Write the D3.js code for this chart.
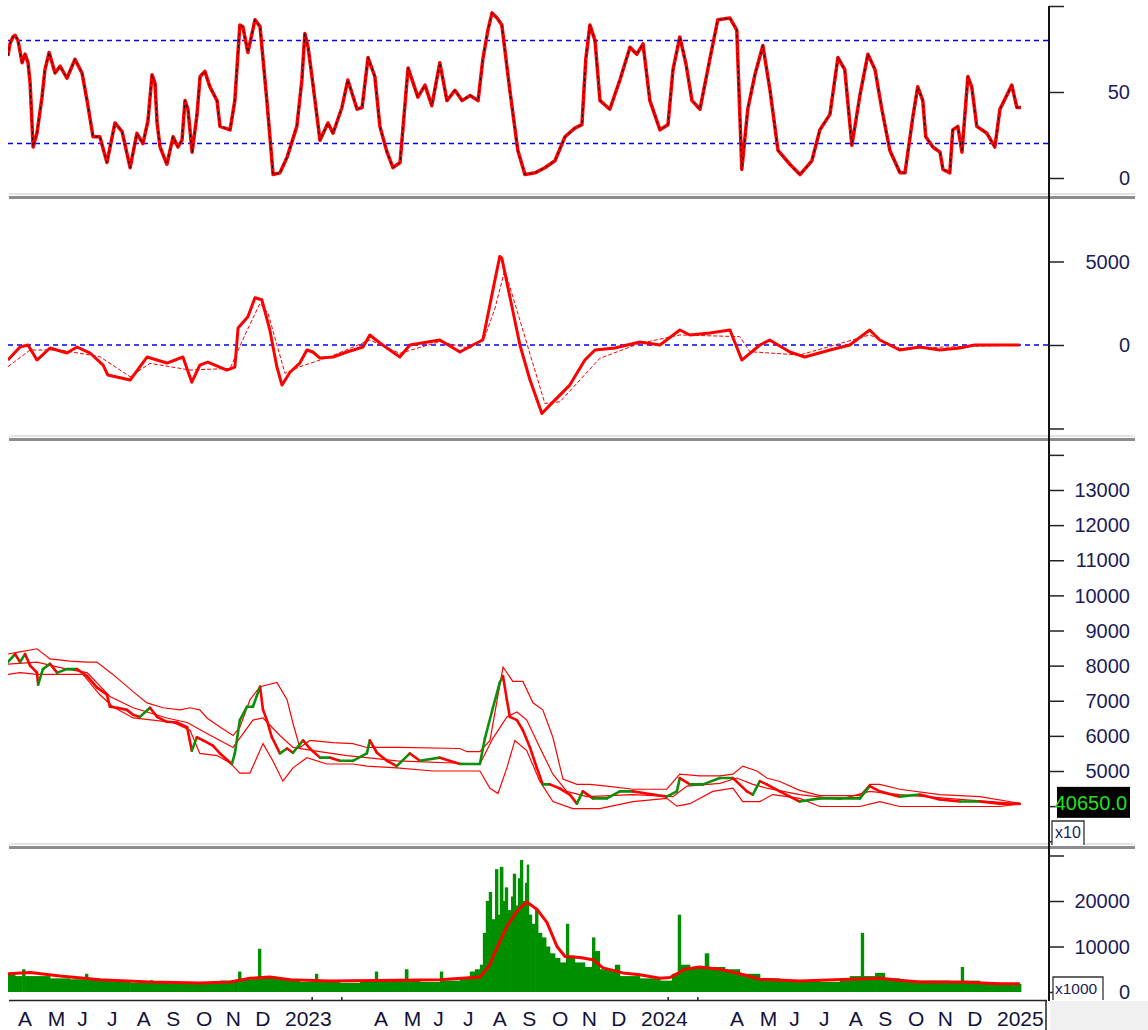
<!DOCTYPE html>
<html>
<head>
<meta charset="utf-8">
<script src="https://cdn.jsdelivr.net/npm/d3@7"></script>
<style>
  body { margin: 0; background: #fff; }
  svg { display: block; font-family: "Liberation Sans", Arial, sans-serif; }
</style>
</head>
<body>
<script>
// x positions are months since 1 April 2022
const monthLabels = ["A","M","J","J","A","S","O","N","D","2023","","","A","M","J","J","A","S","O","N","D","2024","","","A","M","J","J","A","S","O","N","D","2025"];

const rsi = [[-0.24,71],[-0.17,78],[-0.07,82],[0,83],[0.10,80],[0.24,67],[0.34,72],[0.44,67],[0.51,55],[0.61,18],[0.74,26],[0.91,47],[1.01,63],[1.15,73],[1.35,61],[1.52,65],[1.75,58],[2.02,69],[2.26,61],[2.43,45],[2.63,24],[2.86,24],[3.10,9],[3.37,32],[3.61,27],[3.88,6],[4.11,26],[4.31,20],[4.48,33],[4.62,60],[4.72,55],[4.79,32],[4.89,18],[5.12,8],[5.33,24],[5.49,18],[5.63,22],[5.73,45],[5.83,40],[5.97,15],[6.13,36],[6.24,59],[6.40,62],[6.57,53],[6.81,45],[6.91,30],[7.25,28],[7.41,45],[7.58,89],[7.68,88],[7.85,73],[8.09,92],[8.26,88],[8.49,45],[8.70,2],[8.93,3],[9.17,12],[9.50,30],[9.67,57],[9.77,84],[9.88,76],[10.04,55],[10.28,22],[10.55,32],[10.72,26],[11.02,41],[11.22,57],[11.53,40],[11.70,41],[11.90,70],[12.13,59],[12.30,30],[12.54,15],[12.74,6],[12.98,9],[13.25,64],[13.58,47],[13.82,54],[14.05,42],[14.32,67],[14.56,45],[14.83,51],[15.07,45],[15.34,48],[15.61,45],[15.77,69],[15.94,86],[16.08,96],[16.25,93],[16.41,89],[16.68,51],[16.95,16],[17.19,2],[17.53,3],[17.86,6],[18.20,10],[18.54,24],[18.87,29],[19.11,31],[19.24,69],[19.38,89],[19.55,80],[19.72,45],[20.05,40],[20.39,57],[20.73,76],[20.96,72],[21.17,78],[21.40,45],[21.74,28],[22.01,31],[22.18,63],[22.41,82],[22.62,66],[22.82,45],[23.09,40],[23.42,69],[23.69,92],[24.10,93],[24.33,86],[24.50,5],[24.70,40],[24.94,60],[25.21,77],[25.45,51],[25.72,16],[26.12,8],[26.46,2],[26.86,10],[27.13,28],[27.47,37],[27.74,70],[27.97,63],[28.21,19],[28.48,48],[28.75,72],[28.99,63],[29.22,40],[29.49,16],[29.83,3],[30.00,3],[30.27,36],[30.43,53],[30.60,45],[30.70,24],[30.94,18],[31.18,15],[31.28,5],[31.51,3],[31.61,28],[31.78,30],[31.92,15],[32.12,59],[32.25,53],[32.42,30],[32.76,26],[33.03,18],[33.20,40],[33.60,54],[33.77,41],[33.91,41]];
const rsiLevels = [20, 80];

const macd = [[-0.24,-900],[0.17,-120],[0.44,0],[0.74,-900],[1.18,-180],[1.75,-480],[2.09,-120],[2.53,-480],[2.97,-1200],[3.13,-1800],[3.88,-2100],[4.45,-720],[5.12,-1080],[5.66,-720],[5.96,-2230],[6.23,-1200],[6.50,-1020],[7.14,-1500],[7.41,-1330],[7.52,1020],[7.85,1690],[8.09,2830],[8.32,2710],[8.59,900],[8.83,-1330],[9.00,-2400],[9.27,-1630],[9.60,-1080],[9.84,-300],[10.04,-420],[10.28,-780],[10.72,-720],[11.19,-420],[11.73,-120],[11.96,600],[12.30,120],[12.97,-720],[13.31,0],[14.32,300],[15.00,-420],[15.43,0],[15.77,300],[16.11,3300],[16.34,5300],[16.41,5200],[17.02,0],[17.36,-2100],[17.76,-4100],[18.03,-3600],[18.70,-2400],[19.21,-900],[19.55,-300],[20.22,-180],[21.06,180],[21.74,0],[22.41,900],[22.75,600],[23.42,720],[24.10,900],[24.50,-900],[25.11,0],[25.44,300],[26.12,-420],[26.62,-720],[27.47,-300],[28.14,0],[28.81,900],[29.15,300],[29.82,-300],[30.50,-120],[31.17,-300],[31.85,-180],[32.35,0],[33.87,0]];
const macdSignal = [[-0.24,-1300],[0.51,-300],[1.52,-300],[2.86,-700],[3.88,-1900],[4.55,-1100],[5.90,-1500],[7.25,-1400],[7.75,600],[8.26,2500],[8.53,1900],[9.10,-1700],[9.60,-1300],[10.62,-700],[11.96,300],[12.97,-500],[14.32,200],[15.33,-200],[15.84,500],[16.18,2200],[16.51,4500],[17.86,-3500],[18.37,-3400],[19.71,-800],[21.06,100],[22.41,600],[24.43,500],[24.77,-400],[26.45,-600],[28.81,600],[29.82,-200],[33.87,0]];

// price in units of 10 (axis "x10")
const price = [[-0.24,8100],[0,8330],[0.17,8100],[0.34,8330],[0.51,8000],[0.74,7800],[0.78,7460],[0.94,7900],[1.18,8050],[1.42,7800],[1.75,7900],[2.09,7900],[2.43,7700],[2.76,7380],[3.10,7170],[3.20,6830],[3.44,6800],[3.77,6740],[3.98,6600],[4.21,6540],[4.55,6800],[4.79,6540],[5.12,6400],[5.46,6380],[5.80,6250],[5.96,5580],[6.13,5960],[6.34,5870],[6.67,5720],[6.91,5500],[7.31,5200],[7.41,5500],[7.58,6450],[7.82,6830],[8.02,6830],[8.26,7400],[8.36,6740],[8.49,6450],[8.66,5960],[8.93,5500],[9.17,5640],[9.37,5520],[9.71,5870],[9.94,5640],[10.28,5380],[10.62,5380],[10.95,5290],[11.39,5290],[11.86,5500],[11.96,5870],[12.20,5520],[12.54,5290],[12.87,5140],[13.31,5500],[13.65,5290],[14.32,5380],[15.00,5200],[15.67,5200],[15.84,5930],[16.11,6800],[16.34,7520],[16.45,7700],[16.58,7030],[16.68,6540],[16.92,6450],[17.12,6160],[17.36,5670],[17.59,5090],[17.79,4620],[18.03,4620],[18.37,4500],[18.70,4330],[18.94,4070],[19.14,4420],[19.48,4220],[19.95,4220],[20.39,4420],[20.83,4420],[21.50,4330],[21.97,4270],[22.31,4420],[22.41,4800],[22.75,4620],[23.19,4620],[23.76,4800],[24.20,4800],[24.67,4420],[24.87,4330],[25.11,4710],[25.34,4620],[25.78,4420],[26.45,4130],[27.13,4220],[27.80,4220],[28.48,4220],[28.81,4570],[29.15,4420],[29.82,4270],[30.50,4330],[31.17,4190],[31.85,4130],[32.52,4130],[33.19,4070],[33.87,4065]];
const bandUpper = [[-0.24,8330],[0.17,8390],[0.74,8480],[1.18,8190],[1.85,8130],[2.43,8100],[2.76,8100],[3.30,7750],[3.98,7260],[4.45,6940],[4.99,6800],[5.56,6740],[5.90,6800],[6.23,6740],[6.47,6510],[6.91,6250],[7.35,6010],[7.58,6250],[7.92,7030],[8.26,7400],[8.83,7520],[9.17,7030],[9.37,6360],[9.60,5670],[9.94,5870],[10.72,5810],[11.39,5780],[11.86,5670],[12.97,5670],[15.00,5640],[15.23,5550],[15.67,5550],[16.01,5870],[16.45,7960],[16.78,7550],[17.12,7550],[17.46,6940],[17.79,6740],[18.13,5960],[18.47,4770],[18.94,4620],[19.38,4620],[19.95,4570],[20.83,4480],[21.97,4480],[22.41,4910],[23.08,4860],[23.76,4860],[24.20,4910],[24.53,5140],[25.01,5000],[25.34,4800],[25.78,4700],[26.45,4450],[27.13,4300],[28.48,4300],[28.81,4620],[29.15,4620],[29.82,4480],[31.17,4330],[32.52,4270],[33.87,4080]];
const bandLower = [[-0.24,7750],[0.17,7800],[0.74,7750],[1.75,7750],[2.29,7750],[2.86,7170],[3.30,6830],[3.98,6510],[4.65,6450],[5.32,6380],[5.90,6160],[6.23,5500],[6.81,5440],[7.25,5230],[7.58,4940],[7.92,4940],[8.36,5780],[8.69,5290],[9.03,4710],[9.37,5090],[9.84,5380],[10.51,5200],[11.39,5200],[11.86,5140],[12.87,5090],[14.09,5000],[15.67,5000],[16.01,4510],[16.28,4360],[16.58,5090],[16.85,5870],[17.25,5580],[17.69,4710],[18.13,4130],[18.80,3930],[19.71,3930],[20.83,4130],[21.97,4220],[22.31,4000],[22.75,4070],[23.52,4420],[24.20,4510],[24.53,4130],[25.11,4130],[25.54,4330],[26.45,4220],[27.13,3990],[28.48,3990],[29.15,4130],[29.82,3990],[31.17,3990],[33.19,3990],[33.87,4065]];
const bandMiddle = [[-0.24,8040],[0.74,8100],[1.75,7900],[2.43,7800],[3.20,7120],[3.98,6800],[5.12,6510],[5.80,6380],[6.47,6070],[7.35,5670],[8.02,6450],[8.36,6510],[8.93,6010],[9.37,5670],[10.04,5580],[11.19,5440],[11.86,5380],[12.87,5290],[15.67,5200],[16.11,5930],[16.58,6540],[16.92,6680],[17.25,6450],[17.69,5670],[18.13,4910],[18.60,4420],[19.28,4270],[20.83,4330],[22.18,4270],[22.65,4570],[23.76,4650],[24.33,4800],[24.87,4620],[25.34,4510],[26.45,4330],[27.80,4190],[28.81,4420],[29.82,4330],[31.85,4190],[33.87,4065]];
const lastClose = 40650;

// volume in thousands (axis "x1000")
const volume = [[-0.24,4000],[0.00,3500],[0.24,5000],[0.34,3500],[1.18,3000],[1.85,2800],[2.36,4000],[2.46,3000],[2.86,2500],[3.88,2000],[4.55,2600],[4.65,2000],[5.22,1800],[6.23,2200],[6.91,2500],[7.52,4500],[7.62,2800],[8.09,3000],[8.19,9500],[8.29,3500],[8.76,3000],[9.27,2500],[9.60,2200],[10.11,4000],[10.21,2200],[10.95,2000],[11.63,2500],[12.13,4500],[12.23,2500],[13.14,5000],[13.25,2500],[13.65,2200],[14.32,4500],[14.42,2500],[15.00,3000],[15.33,4500],[15.50,5000],[15.67,6000],[15.77,13000],[15.87,20000],[15.97,22000],[16.07,16000],[16.18,27000],[16.28,17000],[16.34,27500],[16.45,20000],[16.51,23000],[16.61,18000],[16.72,21000],[16.78,26000],[16.88,19000],[16.95,25000],[17.02,29000],[17.12,20000],[17.19,24000],[17.25,28000],[17.32,17000],[17.42,15000],[17.53,18000],[17.63,13000],[17.76,12000],[17.90,10000],[18.03,8500],[18.20,7500],[18.37,6500],[18.57,15000],[18.67,8000],[18.87,6500],[19.21,5500],[19.45,12000],[19.55,9000],[19.71,5000],[20.22,6000],[20.39,3500],[21.06,3000],[21.74,2500],[22.14,4000],[22.34,17000],[22.44,6000],[22.75,5500],[23.25,8500],[23.39,5500],[23.93,5000],[24.43,4000],[25.11,3000],[25.78,2600],[26.45,2500],[27.13,2200],[27.80,2800],[28.14,3500],[28.51,13000],[28.61,3500],[28.99,4200],[29.32,3000],[29.82,2500],[30.83,2500],[31.51,2000],[31.88,5500],[31.98,2500],[32.52,2000],[33.19,1800],[33.91,1800]];
const volumeMA = [[-0.24,4000],[0.51,4300],[1.52,3500],[2.86,2700],[4.55,2200],[6.23,2000],[7.25,2200],[7.92,3000],[8.59,3300],[9.27,2700],[10.62,2400],[12.97,2600],[14.32,2700],[15.67,3300],[16.01,6000],[16.11,7800],[16.58,14400],[16.92,17800],[17.25,19800],[17.59,18200],[17.93,15300],[18.27,10000],[18.54,7800],[19.04,7600],[19.48,7100],[19.82,5300],[20.49,4200],[21.06,3800],[21.74,3000],[22.08,3200],[22.58,5000],[23.08,5500],[23.76,5000],[24.43,4000],[25.11,2800],[26.45,2400],[28.14,2800],[29.15,3000],[29.82,2600],[30.50,2200],[31.85,2200],[33.19,1800],[33.87,1800]];

const W = 1148, H = 1030;
const axisX = 1049, plotLeft = 8;
const red = "#ff0000", green = "#0a900a", labelColor = "#1c1c58";

const svg = d3.select("body").append("svg").attr("width", W).attr("height", H);

const x = d3.scaleLinear().domain([0, 33]).range([15, 994]);

const panels = [
  { id: "p1", top: 6, bottom: 193, y: d3.scaleLinear().domain([0, 100]).range([178, 6]),
    ticks: d3.range(0, 101, 10), major: [0, 50, 100], labels: [0, 50] },
  { id: "p2", top: 201, bottom: 437, y: d3.scaleLinear().domain([0, 5000]).range([345, 261.5]),
    ticks: d3.range(-5000, 8001, 1000), major: [-5000, 0, 5000], labels: [0, 5000] },
  { id: "p3", top: 442, bottom: 845, y: d3.scaleLinear().domain([5000, 13000]).range([771, 490]),
    ticks: d3.range(3000, 14001, 500), major: d3.range(3000, 14001, 1000), labels: d3.range(5000, 13001, 1000) },
  { id: "p4", top: 850, bottom: 1000, y: d3.scaleLinear().domain([0, 20000]).range([992, 901]),
    ticks: d3.range(0, 30001, 5000), major: [0, 10000, 20000, 30000], labels: [0, 10000, 20000] }
];

const defs = svg.append("defs");
panels.forEach(p => {
  defs.append("clipPath").attr("id", "clip-" + p.id)
    .append("rect").attr("x", plotLeft).attr("y", p.top)
    .attr("width", axisX - plotLeft).attr("height", p.bottom - p.top);
});

const line = y => d3.line().x(d => x(d[0])).y(d => y(d[1]));

// ---- panel 1: RSI
const [p1, p2, p3, p4] = panels;
const g1 = svg.append("g").attr("clip-path", "url(#clip-p1)");
g1.selectAll("line.level").data(rsiLevels).join("line")
  .attr("x1", plotLeft).attr("x2", axisX)
  .attr("y1", d => p1.y(d)).attr("y2", d => p1.y(d))
  .attr("stroke", "#0000ff").attr("stroke-width", 1.5).attr("stroke-dasharray", "5,4");
g1.append("path").datum(rsi).attr("d", line(p1.y))
  .attr("fill", "none").attr("stroke", red).attr("stroke-width", 3.5).attr("stroke-linejoin", "round");
g1.append("path").datum(rsi).attr("d", line(p1.y))
  .attr("fill", "none").attr("stroke", "#000").attr("stroke-width", 1).attr("stroke-dasharray", "3,3");

// ---- panel 2: MACD
const g2 = svg.append("g").attr("clip-path", "url(#clip-p2)");
g2.append("line").attr("x1", plotLeft).attr("x2", axisX)
  .attr("y1", p2.y(0)).attr("y2", p2.y(0))
  .attr("stroke", "#0000ff").attr("stroke-width", 1.5).attr("stroke-dasharray", "5,4");
g2.append("path").datum(macdSignal).attr("d", line(p2.y))
  .attr("fill", "none").attr("stroke", red).attr("stroke-width", 1).attr("stroke-dasharray", "4,2");
g2.append("path").datum(macd).attr("d", line(p2.y))
  .attr("fill", "none").attr("stroke", red).attr("stroke-width", 3).attr("stroke-linejoin", "round");

// ---- panel 3: price with bands
const g3 = svg.append("g").attr("clip-path", "url(#clip-p3)");
[bandUpper, bandMiddle, bandLower].forEach(b => {
  g3.append("path").datum(b).attr("d", line(p3.y))
    .attr("fill", "none").attr("stroke", red).attr("stroke-width", 1.2);
});
g3.selectAll("line.px").data(d3.pairs(price)).join("line")
  .attr("x1", d => x(d[0][0])).attr("y1", d => p3.y(d[0][1]))
  .attr("x2", d => x(d[1][0])).attr("y2", d => p3.y(d[1][1]))
  .attr("stroke", d => d[1][1] >= d[0][1] ? green : red)
  .attr("stroke-width", 2.6).attr("stroke-linecap", "round");

// ---- panel 4: volume
const g4 = svg.append("g").attr("clip-path", "url(#clip-p4)");
g4.selectAll("rect").data(volume.slice(0, -1)).join("rect")
  .attr("x", d => x(d[0]))
  .attr("width", (d, i) => Math.max(1, x(volume[i + 1][0]) - x(d[0]) + 0.4))
  .attr("y", d => p4.y(d[1]))
  .attr("height", d => p4.y(0) - p4.y(d[1]))
  .attr("fill", "#008f00");
g4.append("path").datum(volumeMA).attr("d", line(p4.y))
  .attr("fill", "none").attr("stroke", red).attr("stroke-width", 3).attr("stroke-linejoin", "round");

// ---- separators
[196, 438, 846].forEach(s => {
  svg.append("rect").attr("x", 9).attr("y", s - 3).attr("width", 1126).attr("height", 2).attr("fill", "#e3e3e3");
  svg.append("rect").attr("x", 9).attr("y", s).attr("width", 1126).attr("height", 3).attr("fill", "#8c8c8c");
});

// ---- right axes
svg.append("line").attr("x1", axisX).attr("x2", axisX).attr("y1", 6).attr("y2", 1001)
  .attr("stroke", "#111").attr("stroke-width", 2);
panels.forEach(p => {
  const minor = p.ticks.filter(t => !p.major.includes(t));
  const ga = svg.append("g").attr("transform", `translate(${axisX},0)`);
  ga.call(d3.axisRight(p.y).tickValues(minor).tickSize(7).tickFormat(""));
  ga.call(d3.axisRight(p.y).tickValues(p.major).tickSize(15).tickFormat(""));
  ga.selectAll(".domain").remove();
  ga.selectAll("line").attr("stroke", "#222").attr("stroke-width", 1.5);
  svg.append("g").selectAll("text").data(p.labels).join("text")
    .attr("x", 1130).attr("y", d => p.y(d)).attr("dy", "0.36em")
    .attr("text-anchor", "end").attr("font-size", 20).attr("fill", labelColor)
    .text(d => d);
});

// last price box
const lastY = p3.y(lastClose / 10);
svg.append("rect").attr("x", 1057).attr("y", lastY - 17).attr("width", 73).attr("height", 31).attr("fill", "#000");
svg.append("text").attr("x", 1127).attr("y", lastY - 1).attr("dy", "0.36em")
  .attr("text-anchor", "end").attr("font-size", 20).attr("fill", "#22e022")
  .text(d3.format(".1f")(lastClose));

// multiplier boxes
svg.append("path").attr("d", "M1052,845V821H1084V845").attr("fill", "#fff").attr("stroke", "#333").attr("stroke-width", 1.3);
svg.append("text").attr("x", 1055).attr("y", 838).attr("font-size", 16).attr("fill", labelColor).text("x10");
svg.append("path").attr("d", "M1053,1000V977H1103V1000").attr("fill", "#fff").attr("stroke", "#333").attr("stroke-width", 1.3);
svg.append("text").attr("x", 1055).attr("y", 994).attr("font-size", 15.5).attr("fill", labelColor).text("x1000");

// ---- bottom time axis
svg.append("rect").attr("x", 1050).attr("y", 1001).attr("width", W - 1050).attr("height", H - 1001).attr("fill", "#f0f0f0");
svg.append("line").attr("x1", 9).attr("x2", 1047).attr("y1", 1000.5).attr("y2", 1000.5)
  .attr("stroke", "#222").attr("stroke-width", 1.5);
const labelled = monthLabels.map((l, i) => i).filter(i => monthLabels[i] !== "");
const hidden = monthLabels.map((l, i) => i).filter(i => monthLabels[i] === "");
const gx = svg.append("g").attr("transform", "translate(0,1001)");
gx.call(d3.axisBottom(x).tickValues(labelled).tickSize(29).tickFormat(""));
gx.call(d3.axisTop(x).tickValues(hidden).tickSize(4).tickFormat(""));
gx.selectAll(".domain").remove();
gx.selectAll("line").attr("stroke", "#222").attr("stroke-width", 1.5);
svg.append("line").attr("x1", 1046).attr("x2", 1046).attr("y1", 1001).attr("y2", 1030)
  .attr("stroke", "#222").attr("stroke-width", 1.5);
svg.append("g").selectAll("text").data(labelled).join("text")
  .attr("x", d => x(d) + 3).attr("y", 1026)
  .attr("font-size", 21).attr("fill", "#12123a")
  .text(d => monthLabels[d]);
</script>
</body>
</html>
